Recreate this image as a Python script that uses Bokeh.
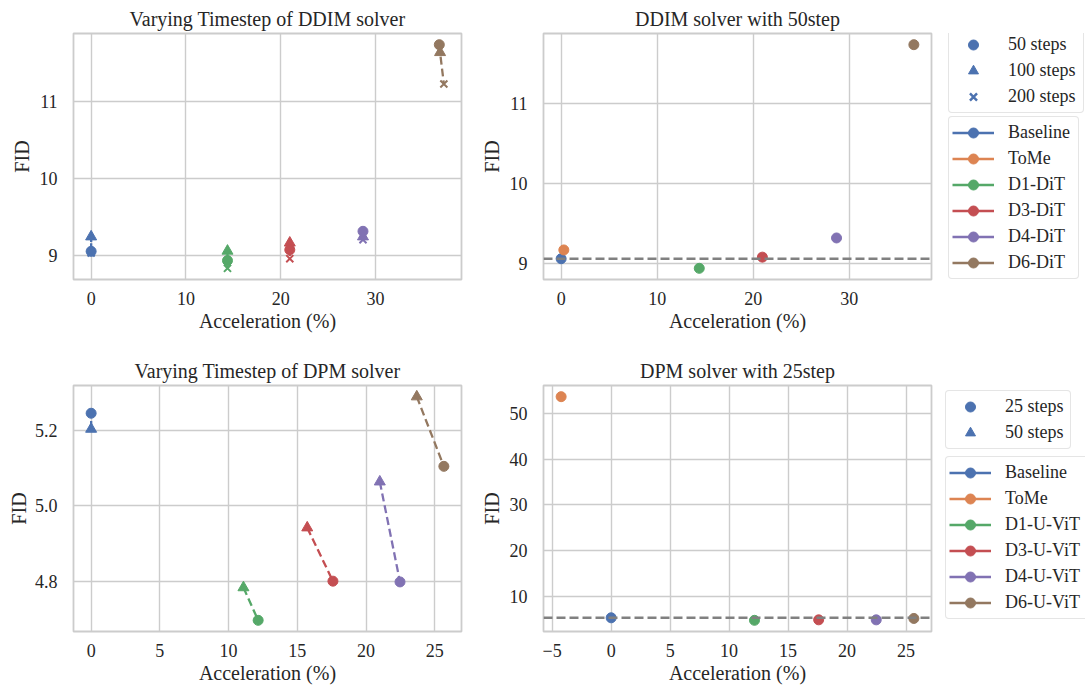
from bokeh.plotting import figure
from bokeh.models import Range1d, FixedTicker, Span, Legend, LegendItem
from bokeh.layouts import column, row
from bokeh.embed import file_html
from bokeh.resources import INLINE

# ---------------- data ----------------
colors = {
    "Baseline": "#4C72B0", "ToMe": "#DD8452",
    "D1": "#55A868", "D3": "#C44E52", "D4": "#8172B3", "D6": "#937860",
}

# DDIM solver (DiT)
dit_methods = ["Baseline", "ToMe", "D1-DiT", "D3-DiT", "D4-DiT", "D6-DiT"]
ddim50_acc = [0.0, 0.28, 14.38, 20.95, 28.67, 36.72]
ddim50_fid = [9.06, 9.17, 8.94, 9.08, 9.32, 11.74]

vt_dit_methods = ["Baseline", "D1-DiT", "D3-DiT", "D4-DiT", "D6-DiT"]
vt_ddim50_acc = [0.0, 14.38, 20.95, 28.67, 36.72]
vt_ddim50_fid = [9.06, 8.94, 9.08, 9.32, 11.74]
vt_ddim100_acc = [0.0, 14.38, 20.95, 28.67, 36.80]
vt_ddim100_fid = [9.25, 9.065, 9.17, 9.25, 11.64]
vt_ddim200_acc = [0.0, 14.38, 20.95, 28.67, 37.20]
vt_ddim200_fid = [9.04, 8.84, 8.965, 9.21, 11.23]

# DPM solver (U-ViT)
uvit_methods = ["Baseline", "ToMe", "D1-U-ViT", "D3-U-ViT", "D4-U-ViT", "D6-U-ViT"]
dpm25_acc = [0.0, -4.24, 12.15, 17.59, 22.47, 25.66]
dpm25_fid = [5.246, 53.65, 4.696, 4.800, 4.798, 5.105]

vt_uvit_methods = ["Baseline", "D1-U-ViT", "D3-U-ViT", "D4-U-ViT", "D6-U-ViT"]
vt_dpm25_acc = [0.0, 12.15, 17.59, 22.47, 25.66]
vt_dpm25_fid = [5.246, 4.696, 4.800, 4.798, 5.105]
vt_dpm50_acc = [0.0, 11.08, 15.72, 21.00, 23.69]
vt_dpm50_fid = [5.204, 4.783, 4.942, 5.064, 5.290]

ddim_xticks = [0, 10, 20, 30]
ddim_yticks = [9, 10, 11]
dpm_vt_xticks = [0, 5, 10, 15, 20, 25]
dpm_vt_yticks = [4.8, 5.0, 5.2]
dpm_vt_ylabels = ["4.8", "5.0", "5.2"]
dpm_xticks = [-5, 0, 5, 10, 15, 20, 25]
dpm_xlabels = ["\u22125", "0", "5", "10", "15", "20", "25"]
dpm_yticks = [10, 20, 30, 40, 50]

titles = ["Varying Timestep of DDIM solver", "DDIM solver with 50step",
          "Varying Timestep of DPM solver", "DPM solver with 25step"]
xlabel = "Acceleration (%)"
ylabel = "FID"
ddim_steps = ["50 steps", "100 steps", "200 steps"]
dpm_steps = ["25 steps", "50 steps"]

# ---------------- style ----------------
FONT = "Liberation Serif"
TXT = "#262626"
GRID = "#cccccc"


def color_of(name):
    return colors[name.split("-")[0]]


def padded(vals):
    lo, hi = min(vals), max(vals)
    m = 0.05 * (hi - lo)
    return lo - m, hi + m


def make_fig(w, h, bl, br, bt, bb, xs, ys, xticks, yticks, title,
             xover=None, yover=None, ylab_standoff=4):
    p = figure(width=w, height=h, min_border_left=bl, min_border_right=br,
               min_border_top=bt, min_border_bottom=bb,
               x_range=Range1d(*padded(xs)), y_range=Range1d(*padded(ys)),
               output_backend="svg", toolbar_location=None, tools="")
    p.background_fill_color = "white"
    p.border_fill_color = "white"
    p.outline_line_color = GRID
    p.outline_line_width = 1.8
    p.title.text = title
    p.title.align = "center"
    p.title.text_font = FONT
    p.title.text_font_size = "20px"
    p.title.text_font_style = "normal"
    p.title.text_color = TXT
    p.title.standoff = 8
    p.xaxis.ticker = FixedTicker(ticks=xticks)
    p.yaxis.ticker = FixedTicker(ticks=yticks)
    if xover:
        p.xaxis.major_label_overrides = xover
    if yover:
        p.yaxis.major_label_overrides = yover
    for ax in (p.xaxis[0], p.yaxis[0]):
        ax.axis_line_color = None
        ax.major_tick_line_color = None
        ax.minor_tick_line_color = None
        ax.major_tick_out = 0
        ax.major_tick_in = 0
        ax.minor_tick_out = 0
        ax.major_label_text_font = FONT
        ax.major_label_text_font_size = "18px"
        ax.major_label_text_color = TXT
        ax.axis_label_text_font = FONT
        ax.axis_label_text_font_size = "20px"
        ax.axis_label_text_font_style = "normal"
        ax.axis_label_text_color = TXT
    p.xaxis.axis_label = xlabel
    p.yaxis.axis_label = ylabel
    p.xaxis.major_label_standoff = 12
    p.xaxis.axis_label_standoff = 2
    p.yaxis.major_label_standoff = 16
    p.yaxis.axis_label_standoff = ylab_standoff
    for g in (p.xgrid[0], p.ygrid[0]):
        g.grid_line_color = GRID
        g.grid_line_width = 1.4
    return p


def make_legend(items, loc, label_width):
    lg = Legend(items=items, location=loc)
    lg.margin = 0
    lg.padding = 3
    lg.spacing = 1
    lg.glyph_height = 25
    lg.glyph_width = 42
    lg.label_height = 21
    lg.label_standoff = 14
    lg.label_width = label_width
    lg.label_text_font = FONT
    lg.label_text_font_size = "18px"
    lg.label_text_color = TXT
    lg.border_line_color = GRID
    lg.border_line_width = 1.3
    lg.background_fill_color = "white"
    lg.background_fill_alpha = 1.0
    if "border_radius" in Legend.properties():
        lg.border_radius = 4
    return lg


def legend_fig(w, h, bt, bb):
    q = figure(width=w, height=h, min_border_left=0, min_border_right=0,
               min_border_top=bt, min_border_bottom=bb,
               x_axis_type=None, y_axis_type=None,
               x_range=Range1d(0, 1), y_range=Range1d(0, 1),
               output_backend="svg", toolbar_location=None, tools="")
    q.outline_line_color = None
    q.background_fill_color = "white"
    q.border_fill_color = "white"
    q.xgrid.visible = False
    q.ygrid.visible = False
    return q


DASH = "8 4"
LW = 2.3
CS, TS, XS = 10, 11, 10   # circle / triangle / x marker sizes (px)
OFF = [-10.0]          # legend-only glyphs live outside the legend panel's range
OFF2 = [-10.0, -9.0]

# layout geometry
WL, WR, WG = 470, 473, 142
H1, H2 = 336, 352

# ---- top-left: varying timestep DDIM ----
xs = vt_ddim50_acc + vt_ddim100_acc + vt_ddim200_acc
ys = vt_ddim50_fid + vt_ddim100_fid + vt_ddim200_fid
p1 = make_fig(WL, H1, 73, 9, 33, 57, xs, ys, ddim_xticks, ddim_yticks, titles[0])
for i, m in enumerate(vt_dit_methods):
    c = color_of(m)
    p1.line([vt_ddim50_acc[i], vt_ddim100_acc[i], vt_ddim200_acc[i]],
            [vt_ddim50_fid[i], vt_ddim100_fid[i], vt_ddim200_fid[i]],
            line_color=c, line_width=LW, line_dash=DASH)
    p1.scatter([vt_ddim200_acc[i]], [vt_ddim200_fid[i]], marker="x", size=XS,
               line_color=c, line_width=2)
    p1.scatter([vt_ddim100_acc[i]], [vt_ddim100_fid[i]], marker="triangle", size=TS,
               fill_color=c, line_color=c)
    p1.scatter([vt_ddim50_acc[i]], [vt_ddim50_fid[i]], marker="circle", size=CS,
               fill_color=c, line_color=c)

# ---- top-right: DDIM 50 steps ----
p2 = make_fig(WR, H1, 73, 12, 33, 57, ddim50_acc, ddim50_fid, ddim_xticks, ddim_yticks, titles[1])
p2.add_layout(Span(location=ddim50_fid[0], dimension="width", line_color="#808080",
                   line_width=2.5, line_dash="9 4"))
for i, m in enumerate(dit_methods):
    c = color_of(m)
    p2.scatter([ddim50_acc[i]], [ddim50_fid[i]], marker="circle", size=CS,
               fill_color=c, line_color=c)

# legends for the DDIM row
g1 = legend_fig(WG, H1, 25, 57)
b = colors["Baseline"]
s1 = [g1.scatter(OFF, OFF, marker="circle", fill_color=b, line_color=b),
      g1.scatter(OFF, OFF, marker="triangle", fill_color=b, line_color=b),
      g1.scatter(OFF, OFF, marker="x", line_color=b, line_width=2.5)]
items = []
for m in dit_methods:
    c = color_of(m)
    dl = g1.line(OFF2, OFF2, line_color=c, line_width=2.3)
    ds = g1.scatter(OFF, OFF, marker="circle", fill_color=c, line_color=c)
    items.append(LegendItem(label=m, renderers=[dl, ds]))
g1.add_layout(make_legend([LegendItem(label=ddim_steps[k], renderers=[s1[k]]) for k in range(3)],
                          (5, 166), 72))
g1.add_layout(make_legend(items, (5, 0), 67))

# ---- bottom-left: varying timestep DPM ----
xs = vt_dpm25_acc + vt_dpm50_acc
ys = vt_dpm25_fid + vt_dpm50_fid
p3 = make_fig(WL, H2, 73, 9, 49, 57, xs, ys, dpm_vt_xticks, dpm_vt_yticks, titles[2],
              yover={t: l for t, l in zip(dpm_vt_yticks, dpm_vt_ylabels)}, ylab_standoff=2)
for i, m in enumerate(vt_uvit_methods):
    c = color_of(m)
    p3.line([vt_dpm50_acc[i], vt_dpm25_acc[i]], [vt_dpm50_fid[i], vt_dpm25_fid[i]],
            line_color=c, line_width=LW, line_dash=DASH)
    p3.scatter([vt_dpm50_acc[i]], [vt_dpm50_fid[i]], marker="triangle", size=TS,
               fill_color=c, line_color=c)
    p3.scatter([vt_dpm25_acc[i]], [vt_dpm25_fid[i]], marker="circle", size=CS,
               fill_color=c, line_color=c)

# ---- bottom-right: DPM 25 steps ----
p4 = make_fig(WR, H2, 73, 12, 49, 57, dpm25_acc, dpm25_fid, dpm_xticks, dpm_yticks, titles[3],
              xover={t: l for t, l in zip(dpm_xticks, dpm_xlabels)})
p4.add_layout(Span(location=dpm25_fid[0], dimension="width", line_color="#808080",
                   line_width=2.5, line_dash="9 4"))
for i, m in enumerate(uvit_methods):
    c = color_of(m)
    p4.scatter([dpm25_acc[i]], [dpm25_fid[i]], marker="circle", size=CS,
               fill_color=c, line_color=c)

# legends for the DPM row
g2 = legend_fig(WG, H2, 40, 57)
s4 = [g2.scatter(OFF, OFF, marker="circle", fill_color=b, line_color=b),
      g2.scatter(OFF, OFF, marker="triangle", fill_color=b, line_color=b)]
items = []
for m in uvit_methods:
    c = color_of(m)
    dl = g2.line(OFF2, OFF2, line_color=c, line_width=2.3)
    ds = g2.scatter(OFF, OFF, marker="circle", fill_color=c, line_color=c)
    items.append(LegendItem(label=m, renderers=[dl, ds]))
g2.add_layout(make_legend([LegendItem(label=dpm_steps[k], renderers=[s4[k]]) for k in range(2)],
                          (2, 182), 62))
g2.add_layout(make_legend(items, (2, 12), 80))

layout = column(row(p1, p2, g1), row(p3, p4, g2))
open("out.html", "w").write(file_html(layout, INLINE))
